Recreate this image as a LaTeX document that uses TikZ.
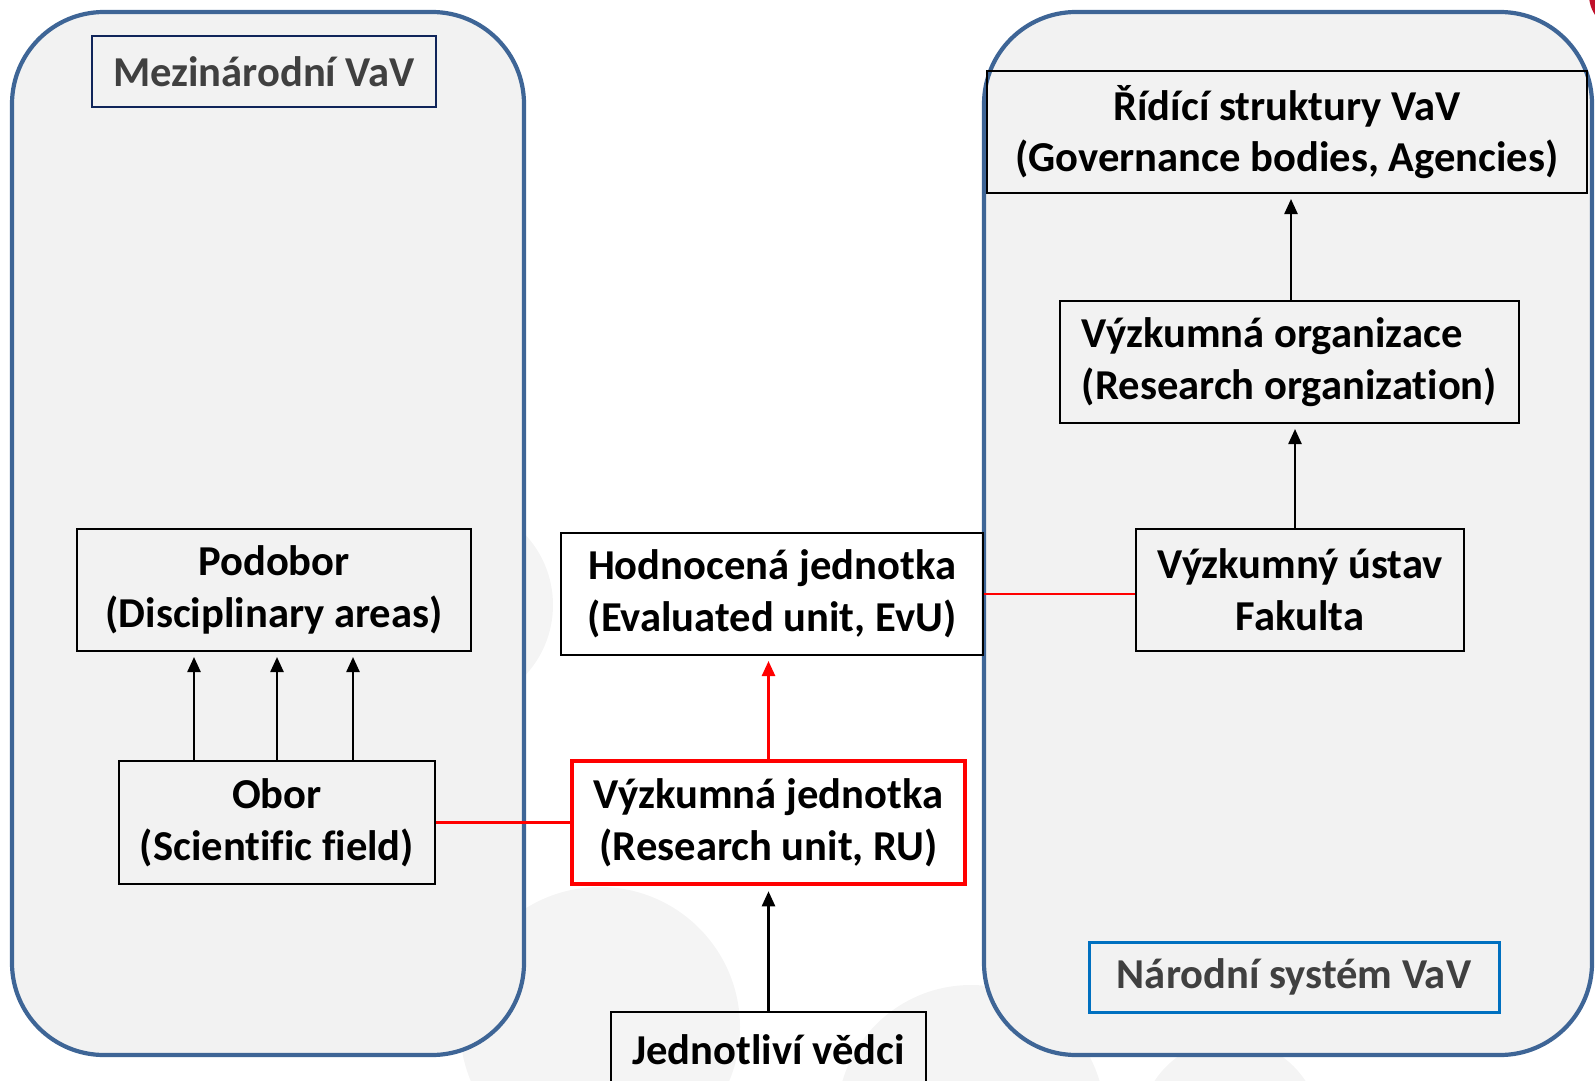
\documentclass[tikz,border=0pt]{standalone}
\usepackage{fontspec}
\setmainfont[Ligatures=NoCommon]{Carlito}
\usetikzlibrary{arrows.meta,calc}

\definecolor{frameblue}{HTML}{3E6596}
\definecolor{panelgray}{HTML}{F2F2F2}
\definecolor{navy}{HTML}{10255A}
\definecolor{titlegray}{HTML}{404040}
\definecolor{natblue}{HTML}{0070C0}
\definecolor{ghost}{HTML}{F4F4F4}
\definecolor{dotred}{HTML}{C0102A}

\tikzset{
  panel/.style={draw=frameblue, fill=panelgray, line width=2.1pt, rounded corners=46pt},
  unit/.style={draw, line width=1pt, align=center, inner sep=0pt,
    font=\bfseries\fontsize{21.3}{25.8}\selectfont},
  tag/.style={unit, text=titlegray, minimum height=35.5pt},
  link/.style={red, line width=1.25pt},
  up/.style={->, line width=1.2pt, shorten >=2.5pt}
}

\begin{document}
\begin{tikzpicture}[x=0.5pt, y=-0.5pt, >={Triangle[width=6.5pt,length=7.5pt]}]

    \useasboundingbox (0,0) rectangle (1595,1081);

    % First the faint circles of the slide background
    \fill[ghost] (450,605) circle (51.5pt);
    \fill[ghost] (600,1027) circle (70pt);
    \fill[ghost] (971,1119) circle (67pt);
    \fill[ghost] (1230,1130) circle (45pt);
    \fill[dotred] (1625,-5) circle (18pt);

    % Next, the two panels
    \draw[panel] (12,12) rectangle (524,1055);
    \draw[panel] (984,12) rectangle (1592,1055);

    % International side
    \node[tag, draw=navy, minimum width=172pt] (mezi) at (264,71.5) {Mezinárodní VaV};
    \node[unit, minimum width=197pt, minimum height=61pt] (podobor) at (274,590)
      {Podobor\\(Disciplinary areas)};
    \node[unit, minimum width=158pt, minimum height=61.5pt] (obor) at (277,822.5)
      {Obor\\(Scientific field)};

    % Middle column
    \node[unit, minimum width=211pt, minimum height=61pt] (hodn) at (772,594)
      {Hodnocená jednotka\\(Evaluated unit, EvU)};
    \node[unit, draw=red, line width=2.25pt, minimum width=196.5pt, minimum height=61.5pt]
      (ru) at (768.5,822.5) {Výzkumná jednotka\\(Research unit, RU)};
    \node[unit, minimum width=157.5pt, minimum height=38pt] (jedn) at (768.5,1050)
      {Jednotliví vědci};

    % National side
    \node[unit, minimum width=300pt, minimum height=61pt] (ridici) at (1287,132)
      {Řídící struktury VaV\\(Governance bodies, Agencies)};
    \node[unit, align=left, minimum width=229.5pt, minimum height=61pt]
      (org) at (1289.5,362) {Výzkumná organizace\\(Research organization)};
    \node[unit, minimum width=164pt, minimum height=61pt] (ustav) at (1300,590)
      {Výzkumný ústav\\Fakulta};
    \node[tag, draw=natblue, line width=1.5pt, minimum width=205pt, minimum height=35pt]
      (narodni) at (1294,977) {Národní systém VaV};

    % Arrows
    \foreach \dx in {-83, 0, 76}
      \draw[up] ([xshift=\dx*0.5pt]obor.north)
        -- ([xshift=\dx*0.5pt]obor.north |- podobor.south);
    \draw[->, link, shorten >=2.5pt] (ru.north) -- (ru.north |- hodn.south);
    \draw[up] (jedn.north) -- (jedn.north |- ru.south);
    \draw[up] ([xshift=-2.5pt]ustav.north) -- ([xshift=-2.5pt]ustav.north |- org.south);
    \draw[up] ([xshift=0.75pt]org.north) -- ([xshift=0.75pt]org.north |- ridici.south);

    % Red links
    \draw[link] (obor.east) -- (ru.west);
    \draw[link] (hodn.east) -- (hodn.east -| ustav.west);
  \end{tikzpicture}
\end{document}
